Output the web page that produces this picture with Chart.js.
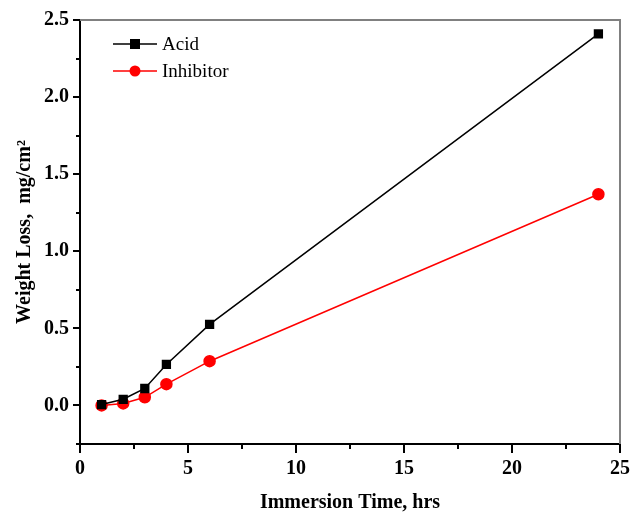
<!DOCTYPE html>
<html>
<head>
<meta charset="utf-8">
<script src="https://cdn.jsdelivr.net/npm/chart.js@4/dist/chart.umd.min.js"></script>
<style>
  html, body { margin: 0; padding: 0; background: #fff; }
  #wrap { width: 632px; height: 513px; }
</style>
</head>
<body>
<div id="wrap"><canvas id="c" width="632" height="513"></canvas></div>
<script>
// data
const hours = [1, 2, 3, 4, 6, 24]
const acid = [0.006, 0.04, 0.11, 0.266, 0.526, 2.41]
const inhibitor = [0.0, 0.013, 0.053, 0.138, 0.287, 1.37]
const seriesNames = ['Acid', 'Inhibitor']
const yLabelTicks = [0, 0.5, 1.0, 1.5, 2.0, 2.5]
const xLabelTicks = [0, 5, 10, 15, 20, 25]

const serif = '"Liberation Serif", "Times New Roman", serif'

function pairs(xs, ys) {
    return xs.map(function (x, i) { return { x: x, y: ys[i] } })
}

// frame, outward ticks (long/short) and the in-plot legend
const decorations = {
    id: 'decorations',
    afterDraw(chart) {
        const { ctx, chartArea: a, scales } = chart
        ctx.save()
        // grey top and right border
        ctx.strokeStyle = '#808080'
        ctx.lineWidth = 2
        ctx.beginPath()
        ctx.moveTo(a.left, a.top)
        ctx.lineTo(a.right, a.top)
        ctx.lineTo(a.right, a.bottom)
        ctx.stroke()

        ctx.strokeStyle = '#000'
        ctx.lineWidth = 2
        // x ticks every 2.5
        for (let v = 0; v <= 25.001; v += 2.5) {
            const px = Math.round(scales.x.getPixelForValue(v))
            const len = (Math.abs(v % 5) < 1e-6) ? 9 : 5
            ctx.beginPath()
            ctx.moveTo(px, a.bottom)
            ctx.lineTo(px, a.bottom + len)
            ctx.stroke()
        }
        // y ticks every 0.25
        for (let v = -0.25; v <= 2.501; v += 0.25) {
            const py = Math.round(scales.y.getPixelForValue(v))
            const r = Math.round(v * 100)
            const len = (r % 50 === 0) ? 7 : 4
            ctx.beginPath()
            ctx.moveTo(a.left, py)
            ctx.lineTo(a.left - len, py)
            ctx.stroke()
        }

        // legend
        ctx.font = '19px ' + serif
        ctx.textBaseline = 'middle'
        chart.data.datasets.forEach(function (ds, i) {
            const y = 44 + i * 27
            const x0 = 113, x1 = 157, xm = 135
            ctx.strokeStyle = ds.borderColor
            ctx.lineWidth = 1.5
            ctx.beginPath()
            ctx.moveTo(x0, y)
            ctx.lineTo(x1, y)
            ctx.stroke()
            ctx.fillStyle = ds.pointBackgroundColor
            if (ds.pointStyle === 'rect') {
                ctx.fillRect(xm - 5, y - 5, 10, 10)
            } else {
                ctx.beginPath()
                ctx.arc(xm, y, 5.5, 0, Math.PI * 2)
                ctx.fill()
            }
            ctx.fillStyle = '#000'
            ctx.fillText(ds.label, 162, y + 1)
        })
        ctx.restore()
    }
}

new Chart(document.getElementById('c'), {
    type: 'line',
    data: {
        datasets: [
            {
                label: seriesNames[0],
                data: pairs(hours, acid),
                borderColor: '#000',
                backgroundColor: '#000',
                pointBackgroundColor: '#000',
                pointBorderColor: '#000',
                pointStyle: 'rect',
                pointRadius: 5.5,
                borderWidth: 1.5
            },
            {
                label: seriesNames[1],
                data: pairs(hours, inhibitor),
                borderColor: '#ff0000',
                backgroundColor: '#ff0000',
                pointBackgroundColor: '#ff0000',
                pointBorderColor: '#ff0000',
                pointStyle: 'circle',
                pointRadius: 5.5,
                borderWidth: 1.5
            }
        ]
    },
    options: {
        responsive: false,
        animation: false,
        layout: { padding: { top: 20, right: 12, left: 0, bottom: 0 } },
        plugins: {
            legend: { display: false },
            tooltip: { enabled: false }
        },
        scales: {
            x: {
                type: 'linear',
                min: 0,
                max: 25,
                afterBuildTicks(scale) {
                    scale.ticks = xLabelTicks.map(function (v) { return { value: v } })
                },
                afterFit(scale) {
                    scale.height = 69
                    scale.paddingLeft = 0
                    scale.paddingRight = 0
                },
                ticks: {
                    color: '#000',
                    padding: 13,
                    maxRotation: 0,
                    font: { family: serif, size: 20, weight: 'bold' },
                    callback: function (v) { return String(v) }
                },
                grid: { display: true, drawOnChartArea: false, drawTicks: false },
                border: { color: '#000', width: 2 },
                title: {
                    display: true,
                    text: 'Immersion Time, hrs',
                    color: '#000',
                    padding: { top: 0, bottom: -2 },
                    font: { family: serif, size: 20, weight: 'bold' }
                }
            },
            y: {
                type: 'linear',
                min: -0.25,
                max: 2.5,
                afterBuildTicks(scale) {
                    scale.ticks = yLabelTicks.map(function (v) { return { value: v } })
                },
                afterFit(scale) {
                    scale.width = 80
                    scale.paddingTop = 0
                    scale.paddingBottom = 0
                },
                ticks: {
                    color: '#000',
                    padding: 11,
                    font: { family: serif, size: 20, weight: 'bold' },
                    callback: function (v) { return Number(v).toFixed(1) }
                },
                grid: { display: true, drawOnChartArea: false, drawTicks: false },
                border: { color: '#000', width: 2 },
                title: {
                    display: true,
                    text: 'Weight Loss,  mg/cm²',
                    color: '#000',
                    padding: { top: 13, bottom: 0 },
                    font: { family: serif, size: 20, weight: 'bold' }
                }
            }
        }
    },
    plugins: [decorations]
})
</script>
</body>
</html>
